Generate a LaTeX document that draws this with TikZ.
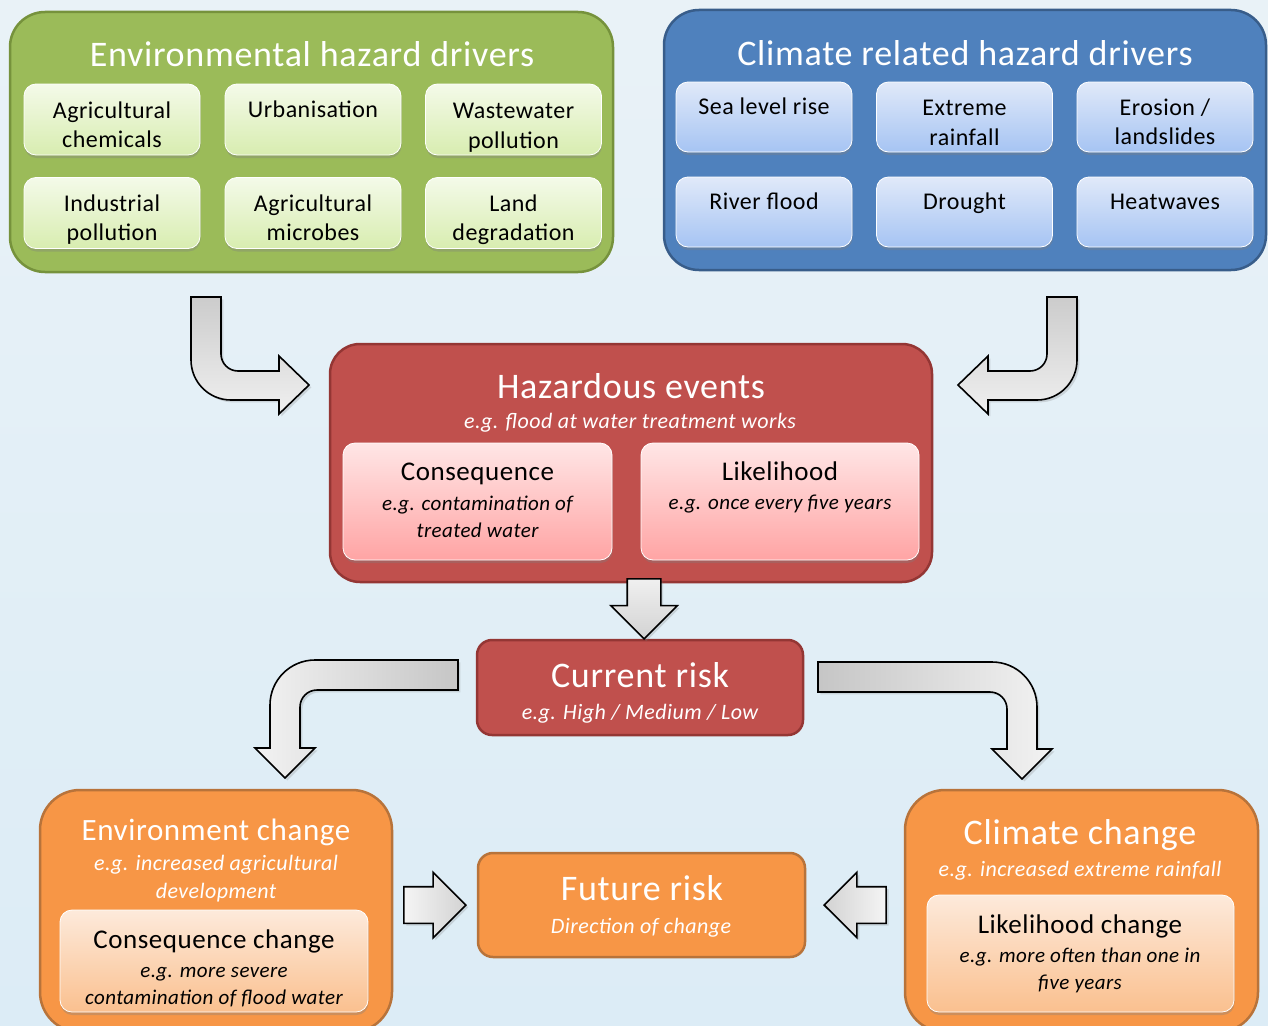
\documentclass[tikz,border=0pt]{standalone}
\usepackage{fontspec}
\setmainfont{Carlito}[LetterSpace=2]
\usetikzlibrary{arrows.meta, positioning, shapes.arrows, shadows}

\definecolor{bgtop}{HTML}{E9F2F7}
\definecolor{bgbot}{HTML}{DCECF6}
\definecolor{envfill}{HTML}{9BBB59}
\definecolor{envline}{HTML}{76923C}
\definecolor{envtop}{HTML}{F4FAE9}
\definecolor{envbot}{HTML}{D8EDB0}
\definecolor{climfill}{HTML}{4F81BD}
\definecolor{climline}{HTML}{385D8A}
\definecolor{climtop}{HTML}{E0E9F9}
\definecolor{climbot}{HTML}{A6C4F3}
\definecolor{hazfill}{HTML}{C0504D}
\definecolor{hazline}{HTML}{943634}
\definecolor{haztop}{HTML}{FFE6E6}
\definecolor{hazbot}{HTML}{FFA4A4}
\definecolor{futfill}{HTML}{F79646}
\definecolor{futline}{HTML}{B8733A}
\definecolor{futtop}{HTML}{FDEADB}
\definecolor{futbot}{HTML}{FAC08F}

\begin{document}
\begin{tikzpicture}[x=1pt, y=-1pt,
    panel/.style={draw, line width=2.5pt, rounded corners=35pt},
    tile/.style={draw=white, line width=0.8pt, rounded corners=12pt,
        drop shadow={shadow xshift=0.5pt, shadow yshift=-3pt, opacity=0.35}},
    ttl/.style={text=white, inner sep=0pt, anchor=north, font=\fontsize{36}{43}\selectfont, execute at begin node=\strut},
    sub/.style={text=white, inner sep=0pt, anchor=north, align=center, font=\fontsize{22}{28}\selectfont\itshape, execute at begin node=\strut},
    itm/.style={inner sep=0pt, anchor=north, align=center, font=\fontsize{24}{29.5}\selectfont, execute at begin node=\strut},
    hd/.style={inner sep=0pt, anchor=north, font=\fontsize{27}{33}\selectfont, execute at begin node=\strut},
    eg/.style={inner sep=0pt, anchor=north, align=center, font=\fontsize{21}{27}\selectfont\itshape, execute at begin node=\strut},
    curlarrow/.style={draw=black, line width=1.6pt, drop shadow={opacity=0.25}},
    flatarrow/.style={single arrow, draw=black, line width=1.6pt, drop shadow={opacity=0.25}}
]
    \useasboundingbox (0,0) rectangle (1268,1025);
    \clip (0,0) rectangle (1268,1025);
    \fill[top color=bgtop, bottom color=bgbot] (0,0) rectangle (1268,1025);

    % Environmental hazard drivers
    \node[panel, fill=envfill, draw=envline, minimum width=603pt, minimum height=260pt] (env) at (311.5,142) {};
    \node[ttl] (envttl) at (312,36) {Environmental hazard drivers};
    \node[tile, top color=envtop, bottom color=envbot, minimum width=176pt, minimum height=71pt] (agchem) at (112,119.5) {};
    \node[tile, top color=envtop, bottom color=envbot, minimum width=176pt, minimum height=71pt] (urban) at (313,119.5) {};
    \node[tile, top color=envtop, bottom color=envbot, minimum width=176pt, minimum height=71pt] (waste) at (513.5,119.5) {};
    \node[tile, top color=envtop, bottom color=envbot, minimum width=176pt, minimum height=71pt] (indus) at (112,213) {};
    \node[tile, top color=envtop, bottom color=envbot, minimum width=176pt, minimum height=71pt] (agmic) at (313,213) {};
    \node[tile, top color=envtop, bottom color=envbot, minimum width=176pt, minimum height=71pt] (land) at (513.5,213) {};
    \node[itm] (agchemtxt) at (112,101.4) {Agricultural\\chemicals};
    \node[itm] (urbantxt) at (313,96.4) {Urbanisation};
    \node[itm] (wastetxt) at (513.5,103.4) {Wastewater\\pollution};
    \node[itm] (industxt) at (112,194.4) {Industrial\\pollution};
    \node[itm] (agmictxt) at (313,194.4) {Agricultural\\microbes};
    \node[itm] (landtxt) at (513.5,194.4) {Land\\degradation};

    % Climate related hazard drivers
    \node[panel, fill=climfill, draw=climline, minimum width=602pt, minimum height=260pt] (clim) at (965,140) {};
    \node[ttl] (climttl) at (965,35) {Climate related hazard drivers};
    \node[tile, top color=climtop, bottom color=climbot, minimum width=176pt, minimum height=70pt] (sea) at (764,117) {};
    \node[tile, top color=climtop, bottom color=climbot, minimum width=176pt, minimum height=70pt] (rain) at (964.5,117) {};
    \node[tile, top color=climtop, bottom color=climbot, minimum width=176pt, minimum height=70pt] (erosion) at (1165,117) {};
    \node[tile, top color=climtop, bottom color=climbot, minimum width=176pt, minimum height=70pt] (river) at (764,212) {};
    \node[tile, top color=climtop, bottom color=climbot, minimum width=176pt, minimum height=70pt] (drought) at (964.5,212) {};
    \node[tile, top color=climtop, bottom color=climbot, minimum width=176pt, minimum height=70pt] (heat) at (1165,212) {};
    \node[itm] (seatxt) at (764,93.4) {Sea level rise};
    \node[itm] (raintxt) at (964.5,100.4) {Extreme\\rainfall};
    \node[itm] (erosiontxt) at (1165,98.4) {Erosion /\\landslides};
    \node[itm] (rivertxt) at (764,188.4) {River flood};
    \node[itm] (droughttxt) at (964.5,188.4) {Drought};
    \node[itm] (heattxt) at (1165,188.4) {Heatwaves};

    % Hazardous events
    \node[panel, rounded corners=30pt, fill=hazfill, draw=hazline, minimum width=602pt, minimum height=238pt] (haz) at (631,463) {};
    \node[ttl] (hazttl) at (631,368) {Hazardous events};
    \node[sub] (hazsub) at (630,409) {e.g. flood at water treatment works};
    \node[tile, top color=haztop, bottom color=hazbot, minimum width=269pt, minimum height=117pt] (conseq) at (477.5,501.5) {};
    \node[tile, top color=haztop, bottom color=hazbot, minimum width=278pt, minimum height=117pt] (likely) at (780,501.5) {};
    \node[hd] (conseqhd) at (477.5,457) {Consequence};
    \node[eg] (conseqeg) at (477.5,496) {e.g. contamination of\\treated water};
    \node[hd] (likelyhd) at (780,457) {Likelihood};
    \node[eg] (likelyeg) at (780,490) {e.g. once every five years};

    % Current risk
    \node[panel, rounded corners=15pt, fill=hazfill, draw=hazline, minimum width=326pt, minimum height=95pt] (now) at (640,687.5) {};
    \node[ttl] (nowttl) at (640,657) {Current risk};
    \node[sub] (nowsub) at (640,700) {e.g. High / Medium / Low};

    % Environment change
    \node[panel, rounded corners=40pt, fill=futfill, draw=futline, minimum width=352pt, minimum height=242pt] (envchg) at (216,911) {};
    \node[ttl, font=\fontsize{31}{38}\selectfont] (envchgttl) at (216,814) {Environment change};
    \node[sub] (envchgsub) at (216,855) {e.g. increased agricultural\\development};
    \node[tile, top color=futtop, bottom color=futbot, minimum width=308pt, minimum height=102pt] (conchg) at (214,961) {};
    \node[hd] (conchghd) at (214,925) {Consequence change};
    \node[eg] (conchgeg) at (214,967) {e.g. more severe\\contamination of flood water};

    % Future risk
    \node[panel, rounded corners=15pt, fill=futfill, draw=futline, minimum width=327pt, minimum height=104pt] (future) at (641.5,905) {};
    \node[ttl] (futurettl) at (642,870) {Future risk};
    \node[sub] (futuresub) at (641,914) {Direction of change};

    % Climate change
    \node[panel, rounded corners=40pt, fill=futfill, draw=futline, minimum width=353pt, minimum height=242pt] (climchg) at (1081.5,911) {};
    \node[ttl] (climchgttl) at (1080,814) {Climate change};
    \node[sub] (climchgsub) at (1080,857) {e.g. increased extreme rainfall};
    \node[tile, top color=futtop, bottom color=futbot, minimum width=307pt, minimum height=117pt] (likchg) at (1080.5,953.5) {};
    \node[hd] (likchghd) at (1080,910) {Likelihood change};
    \node[eg] (likchgeg) at (1080,948) {e.g. more often than one in\\five years};

    % Bent arrows into hazardous events
    \draw[curlarrow, top color=gray!40, bottom color=gray!12] (191,297) -- (221,297) -- (221,354) arc (180:90:17) -- (279,371) -- (279,356) -- (309,385) -- (279,414) -- (279,400) -- (231,400) arc (90:180:40) -- cycle;
    \draw[curlarrow, top color=gray!40, bottom color=gray!12] (1077,297) -- (1047,297) -- (1047,354) arc (0:90:17) -- (988,371) -- (988,356) -- (958,385) -- (988,414) -- (988,400) -- (1037,400) arc (90:0:40) -- cycle;

    % Straight arrows
    \node[flatarrow, shape border rotate=270, minimum height=60pt, inner sep=16pt, single arrow head extend=16.5pt, top color=gray!12, bottom color=gray!35, anchor=tip] (hazdown) at (644,640) {};
    \node[flatarrow, minimum height=62pt, inner sep=17.5pt, single arrow head extend=14.5pt, left color=gray!8, right color=gray!35, anchor=tip] (toleft) at (467,905) {};
    \node[flatarrow, shape border rotate=180, minimum height=62pt, inner sep=17.5pt, single arrow head extend=14.5pt, left color=gray!35, right color=gray!8, anchor=tip] (toright) at (823,905) {};

    % Bent arrows out of current risk
    \draw[curlarrow, left color=gray!10, right color=gray!45] (458,660) -- (315,660) arc (270:180:45) -- (270,748) -- (255,748) -- (285,778) -- (315,748) -- (300,748) -- (300,707) arc (180:270:17) -- (458,690) -- cycle;
    \draw[curlarrow, left color=gray!45, right color=gray!10] (818,662) -- (992,662) arc (270:360:45) -- (1037,749) -- (1052,749) -- (1022,779) -- (992,749) -- (1007,749) -- (1007,709) arc (0:-90:17) -- (818,692) -- cycle;
\end{tikzpicture}
\end{document}
